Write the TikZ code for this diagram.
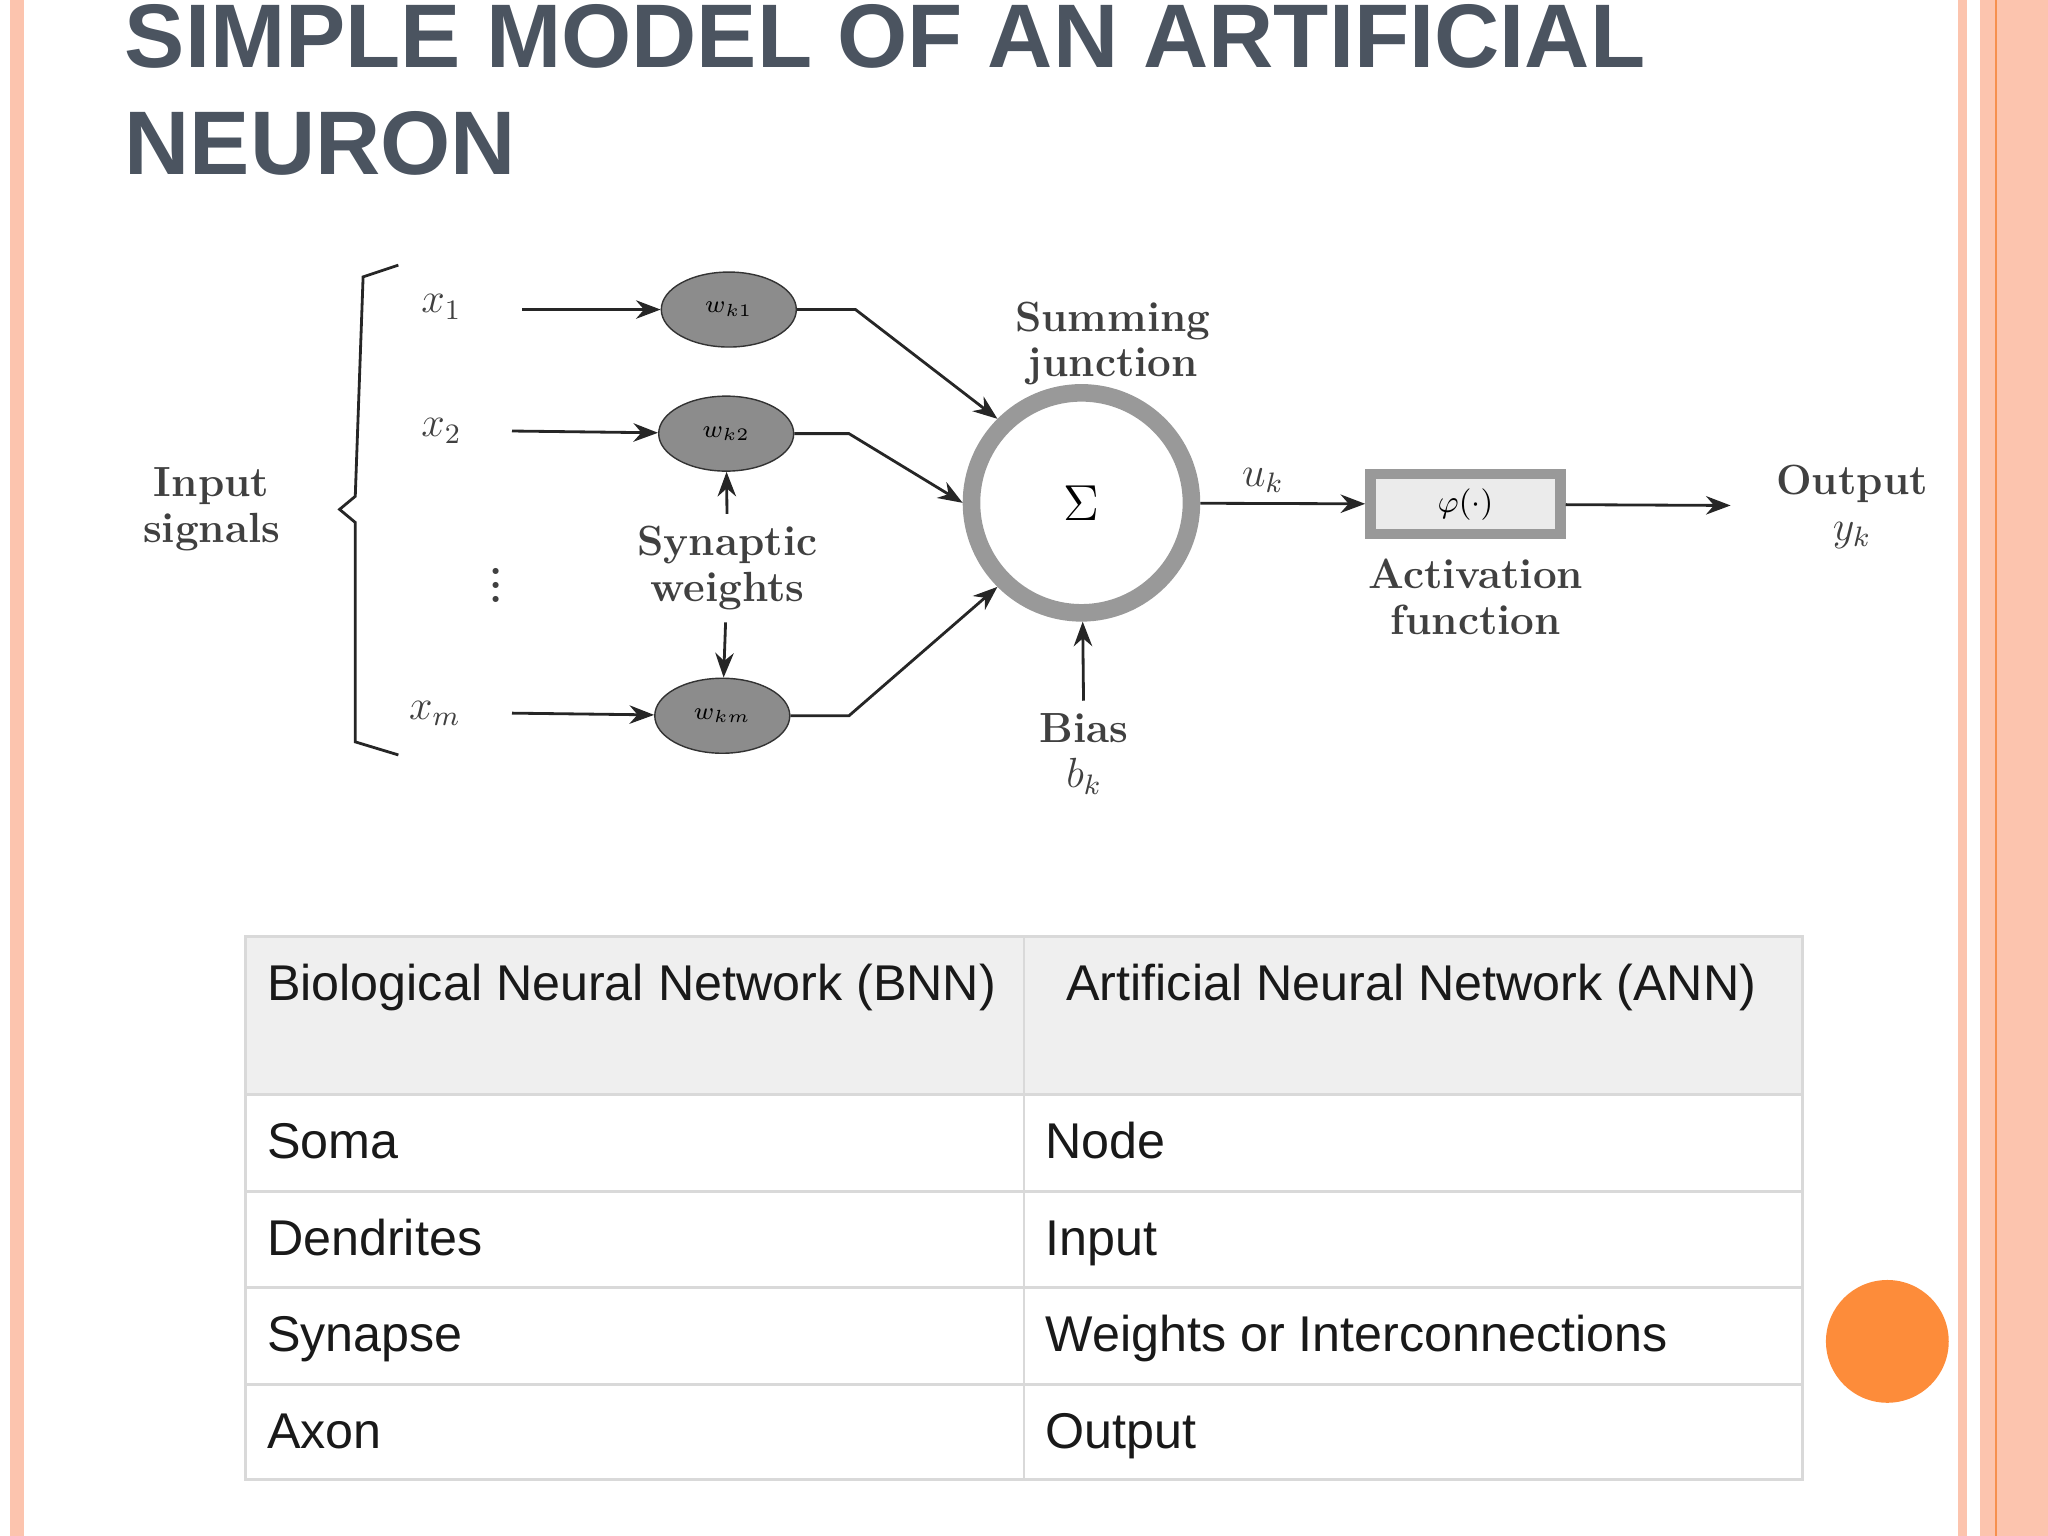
\documentclass[tikz,border=0pt]{standalone}
\usepackage{fontspec}
\setmainfont{Liberation Sans}
\newfontfamily\lmserif{Latin Modern Roman}
\usetikzlibrary{arrows.meta,positioning,shapes.geometric}
\definecolor{salmon}{HTML}{FCC4AE}
\definecolor{deeporange}{HTML}{F6904F}
\definecolor{dot}{HTML}{FD8C3A}
\definecolor{titlegray}{HTML}{4B5460}
\definecolor{headfill}{HTML}{EFEFEF}
\definecolor{rule}{HTML}{D9D9D9}
\tikzset{
  diag/.style={font=\lmserif\fontsize{12}{13}\selectfont\bfseries, text=black!75, align=center},
  weight/.style={ellipse, draw=black!80, fill=black!45, minimum width=1.35cm, minimum height=0.75cm, inner sep=0pt},
  flow/.style={-{Stealth[length=7pt]}, black!85, thick},
  cell/.style={font=\fontsize{14.3}{16}\selectfont, anchor=base west, text=black!90}
}
\begin{document}
\begin{tikzpicture}[x=0.013061cm, y=-0.013061cm]
\useasboundingbox (0,0) rectangle (1568,1176);

% slide borders
\fill[salmon] (8,0) rectangle (18,1176);
\fill[salmon] (1499,0) rectangle (1506,1176);
\fill[salmon] (1516,0) rectangle (1568,1176);
\draw[deeporange, line width=0.6pt] (1528,0) -- (1528,1176);

% title
\node[anchor=north west, text=titlegray, align=left, font=\fontsize{25.7}{30.5}\selectfont\bfseries, inner sep=0pt]
  (title) at (95,3) {SIMPLE MODEL OF AN ARTIFICIAL\\NEURON};

% inputs
\node[diag] (insig) at (162,390) {Input\\signals};
\draw[black!85, thick] (305,203) -- (278,212) -- (272,380) -- (260,390) -- (272,400) -- (272,568) -- (305,578);
\node[diag] (x1) at (338,235) {$x_1$};
\node[diag] (x2) at (338,330) {$x_2$};
\node[diag, inner sep=0pt] (xdots) at (380,440) {$\vdots$};
\node[diag] (xm) at (333,546) {$x_m$};

% weights
\node[weight] (w1) at (558,237) {\scriptsize $w_{k1}$};
\node[weight] (w2) at (556,332) {\scriptsize $w_{k2}$};
\node[weight] (wm) at (553,548) {\scriptsize $w_{km}$};
\coordinate (a1) at (400,237);
\coordinate (a2) at (392,330);
\coordinate (am) at (392,546);
\draw[flow] (a1) -- (w1);
\draw[flow] (a2) -- (w2);
\draw[flow] (am) -- (wm);

\node[diag] (synw) at (557,435) {Synaptic\\weights};
\draw[flow] (synw) -- (w2);
\draw[flow] (synw) -- (wm);

% summing junction
\node[circle, draw=black!40, line width=5pt, minimum size=2.2cm, font=\Large] (sum) at (828,385) {$\Sigma$};
\node[diag] (sumlab) at (852,263) {Summing\\junction};
\coordinate (k1) at (655,237);
\coordinate (k2) at (650,332);
\coordinate (km) at (650,548);
\draw[flow] (w1.east) -- (k1) -- (sum.north west);
\draw[flow] (w2.east) -- (k2) -- (sum.west);
\draw[flow] (wm.east) -- (km) -- (sum.south west);

\node[diag] (bias) at (830,577) {Bias\\$b_k$};
\draw[flow] (bias) -- (sum);

% activation
\node[draw=black!40, fill=black!8, line width=3pt, minimum width=1.9cm, minimum height=0.6cm] (act) at (1122,386) {\small $\varphi(\cdot)$};
\node[diag] (actlab) at (1130,457) {Activation\\function};
\node[diag] (uk) at (967,368) {$u_k$};
\draw[flow] (sum) -- (act);
\node[diag] (out) at (1418,388) {Output\\$y_k$};
\coordinate (oend) at (1325,387);
\draw[flow] (act) -- (oend);

% table
\fill[headfill] (188,717) rectangle (1380,838);
\draw[rule, thick] (188,717) rectangle (1380,1133);
\draw[rule, thick] (784,717) -- (784,1133);
\foreach \y in {838,912,986,1060}
  \draw[rule, thick] (188,\y) -- (1380,\y);
\node[cell] (h1) at (195,766) {Biological Neural Network (BNN)};
\node[cell] (h2) at (807,766) {Artificial Neural Network (ANN)};
\node[cell] (r1a) at (195,887) {Soma};
\node[cell] (r1b) at (791,887) {Node};
\node[cell] (r2a) at (195,961) {Dendrites};
\node[cell] (r2b) at (791,961) {Input};
\node[cell] (r3a) at (195,1035) {Synapse};
\node[cell] (r3b) at (791,1035) {Weights or Interconnections};
\node[cell] (r4a) at (195,1109) {Axon};
\node[cell] (r4b) at (791,1109) {Output};

% orange dot
\fill[dot] (1445,1027) circle[radius=0.614cm];
\end{tikzpicture}
\end{document}
